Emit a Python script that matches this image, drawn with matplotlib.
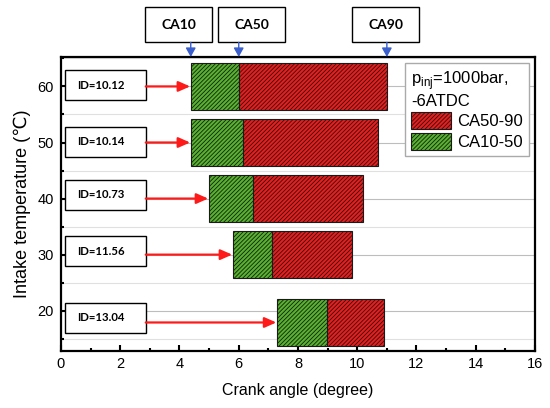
import numpy as np
import matplotlib
matplotlib.use('Agg')
import matplotlib.pyplot as plt
from matplotlib.patches import Patch, Rectangle

plt.rcParams['font.family'] = ['Liberation Sans', 'DejaVu Sans']
plt.rcParams['mathtext.fontset'] = 'custom'
plt.rcParams['mathtext.rm'] = 'Liberation Sans'
plt.rcParams['hatch.linewidth'] = 0.6

# data
temps = [60, 50, 40, 30, 20]
temp_pos = [60, 50, 40, 30, 17.9]
ca10 = [4.38, 4.38, 4.99, 5.80, 7.29]
ca50 = [6.00, 6.14, 6.48, 7.12, 8.97]
ca90 = [11.00, 10.71, 10.20, 9.81, 10.92]
ign_delay = ['10.12', '10.14', '10.73', '11.56', '13.04']
id_box_y = [60.2, 50.1, 40.7, 30.6, 18.7]

green = '#56b42c'
red = '#ee1b1b'
hatch = '////////'

fig = plt.figure(figsize=(5.5, 4.08), dpi=100)
ax = fig.add_axes([0.1109, 0.1409, 0.8618, 0.7194])

ax.barh(temp_pos, np.array(ca50) - np.array(ca10), left=ca10, height=8.3,
        color=green, edgecolor='#1a1a1a', linewidth=0.8, hatch=hatch, zorder=3)
ax.barh(temp_pos, np.array(ca90) - np.array(ca50), left=ca50, height=8.3,
        color=red, edgecolor='#1a1a1a', linewidth=0.8, hatch=hatch, zorder=3)

# ID boxes + red arrows
for y, yb, x0, idv in zip(temp_pos, id_box_y, ca10, ign_delay):
    ax.add_patch(Rectangle((0.13, yb - 2.65), 2.73, 5.3, facecolor='white',
                           edgecolor='black', linewidth=1.0, zorder=4))
    ax.text(0.55, yb, 'ID=' + idv, family='Lato', fontweight='bold', fontsize=8.2,
            va='center', ha='left', zorder=5)
    ax.annotate('', xy=(x0 - 0.02, y), xytext=(2.86, y),
                arrowprops=dict(arrowstyle='-|>,head_length=0.5,head_width=0.22',
                                color='#ff1a1a', lw=1.6, mutation_scale=14,
                                shrinkA=0, shrinkB=0), zorder=5)

# CA markers above the frame (60 degC case)
trans = ax.get_xaxis_transform()
for name, xa, xc in [('CA10', ca10[0], 3.98), ('CA50', ca50[0], 6.44), ('CA90', ca90[0], 10.97)]:
    ax.add_patch(Rectangle((xc - 1.13, 1.0497), 2.26, 0.1194, transform=trans,
                           facecolor='white', edgecolor='black', linewidth=1.0, clip_on=False))
    ax.text(xc, 1.0497 + 0.0597, name, transform=trans, family='Lato', fontweight='bold',
            fontsize=10, ha='center', va='center')
    ax.annotate('', xy=(xa, 1.0), xytext=(xa, 1.0497), xycoords=trans, textcoords=trans,
                arrowprops=dict(arrowstyle='-|>,head_length=0.45,head_width=0.25',
                                color='#3a5fcd', lw=1.0, mutation_scale=12,
                                shrinkA=0, shrinkB=0), annotation_clip=False)

ax.set_xlim(0, 16)
ax.set_ylim(12.9, 65.25)
ax.set_xticks(np.arange(0, 17, 2))
ax.set_xticks(np.arange(1, 16, 2), minor=True)
ax.set_yticks(temps[::-1])
ax.set_yticks(np.arange(15, 66, 10), minor=True)
ax.tick_params(which='both', direction='in', width=1.5, labelsize=10.5)
ax.tick_params(which='major', length=4)
ax.tick_params(which='minor', length=2.5)
ax.tick_params(axis='x', pad=5)
ax.tick_params(axis='y', pad=5)
for s in ax.spines.values():
    s.set_linewidth(1.6)
ax.yaxis.grid(True, which='major', color='#bdbdbd', linewidth=0.8, zorder=0)
ax.yaxis.grid(True, which='minor', color='#e0e0e0', linewidth=0.8, zorder=0)
ax.set_axisbelow(True)

ax.set_xlabel('Crank angle (degree)', fontsize=11.5, labelpad=8)
ax.set_ylabel('Intake temperature (℃)', fontsize=13, labelpad=5)

handles = [Patch(facecolor=red, edgecolor='#1a1a1a', hatch=hatch, linewidth=0.8),
           Patch(facecolor=green, edgecolor='#1a1a1a', hatch=hatch, linewidth=0.8)]
leg = ax.legend(handles, ['CA50-90', 'CA10-50'], loc='upper right',
                title='p$_{\\mathregular{inj}}$=1000bar,\n-6ATDC', alignment='left',
                fontsize=12, title_fontsize=12, fancybox=False, framealpha=1,
                edgecolor='#aaaaaa', handlelength=2.4, handleheight=1.2,
                handletextpad=0.4, labelspacing=0.2, borderpad=0.35, borderaxespad=0.35)
leg.get_frame().set_linewidth(1.0)
leg.set_zorder(6)

fig.savefig('out.png', dpi=100)
